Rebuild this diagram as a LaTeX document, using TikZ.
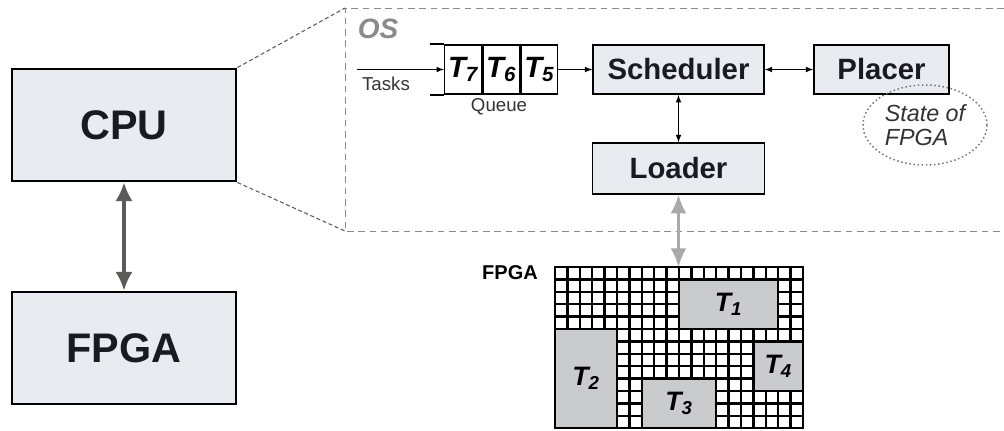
\documentclass[tikz,border=0pt]{standalone}
\usepackage{fontspec}
\setmainfont{Liberation Sans}
\usetikzlibrary{arrows.meta,positioning,shapes.geometric}
\tikzset{>=latex}

\definecolor{boxfill}{HTML}{E8EBEF}
\definecolor{taskfill}{HTML}{C9CBCC}
\definecolor{darkarr}{HTML}{5B5B57}
\definecolor{lightarr}{HTML}{A9A9A9}
\definecolor{osgray}{HTML}{8A8A8A}
\definecolor{inkblack}{HTML}{1A1A22}

\newcommand{\tsk}[1]{T\textsubscript{#1}}

\tikzset{
  bigbox/.style={draw, line width=2.2pt, fill=boxfill, minimum width=168pt,
    minimum height=84pt, inner sep=0pt, text=inkblack,
    font=\fontsize{31}{31}\selectfont\bfseries},
  osbox/.style={draw, line width=1.3pt, fill=boxfill, minimum height=37pt,
    inner sep=0pt, text=inkblack, font=\fontsize{22}{22}\selectfont\bfseries},
  qcell/.style={draw, line width=1.1pt, minimum width=27.5pt, minimum height=37pt,
    inner sep=0pt, font=\fontsize{22}{22}\selectfont\bfseries\itshape},
  smalltxt/.style={inner sep=0pt, text=black!80, font=\fontsize{14}{14}\selectfont},
  link/.style={->, line width=0.9pt},
  linkboth/.style={<->, line width=0.9pt},
  osdash/.style={draw=osgray, dashed, dash pattern=on 5pt off 3.5pt, line width=0.7pt},
  zoomdash/.style={draw=darkarr, densely dashed, line width=0.8pt},
  gridline/.style={line width=1.7pt},
  taskbox/.style={fill=taskfill, draw, line width=1.7pt},
  tasklbl/.style={inner sep=0pt, font=\fontsize{20}{20}\selectfont\bfseries\itshape},
}

\begin{document}
\begin{tikzpicture}[x=0.75pt,y=-0.75pt]
  \useasboundingbox (0,0) rectangle (1004,430);

  %% left: host system
  \node[bigbox] (cpu) at (124,125) {CPU};
  \node[bigbox] (fpga) at (124,348) {FPGA};
  \draw[{Latex[length=14pt,width=13pt]}-{Latex[length=14pt,width=13pt]},
    line width=2.3pt, darkarr] (cpu.south) -- (fpga.north);

  %% zoom into the OS
  \draw[osdash] (1004,8) -- (345,8) -- (345,231) -- (1004,231);
  \draw[zoomdash] (cpu.north east) -- (345,8);
  \draw[zoomdash] (cpu.south east) -- (345,231);
  \node[text=osgray, inner sep=0pt, font=\fontsize{21}{21}\selectfont\bfseries\itshape]
    (os) at (378,29) {OS};

  %% queue
  \node[qcell] (t7) at (463,69.5) {\tsk{7}};
  \node[qcell, right=0pt of t7] (t6) {\tsk{6}};
  \node[qcell, right=0pt of t6] (t5) {\tsk{5}};
  \draw[line width=1.1pt] (t7.north west) -- ++(-14,0);
  \draw[line width=1.1pt] (t7.south west) -- ++(-14,0);
  \coordinate (tin) at (357,69.5);
  \draw[link] (tin) -- (t7.west);
  \node[smalltxt] (tasks) at (386,84) {Tasks};
  \node[smalltxt] (queue) at (499,107) {Queue};

  %% OS units
  \node[osbox, minimum width=128pt] (sched) at (678.5,69.5) {Scheduler};
  \node[osbox, minimum width=101pt] (placer) at (881.5,69.5) {Placer};
  \node[osbox, minimum width=129pt, minimum height=38pt] (loader) at (678.5,168.5) {Loader};
  \draw[link] (t5.east) -- (sched.west);
  \draw[linkboth] (sched.east) -- (placer.west);
  \draw[linkboth] (sched.south) -- (loader.north);

  \node[ellipse, draw=black!55, dotted, line width=1.1pt, minimum width=93pt,
    minimum height=60pt, inner sep=0pt, align=left, text=black!80,
    font=\fontsize{17.5}{18}\selectfont\itshape] (state) at (925,125) {State of\\FPGA};

  %% FPGA fabric
  \coordinate (gtop) at (678.5,267);
  \draw[{Latex[length=14pt,width=12pt]}-{Latex[length=14pt,width=12pt]},
    line width=2.2pt, lightarr] (loader.south) -- (gtop);
  \node[inner sep=0pt, font=\fontsize{15}{15}\selectfont\bfseries] (fpgalbl) at (510,273) {FPGA};

  \begin{scope}[shift={(555,267)}, x=9.3pt, y=-9.3pt]
    \foreach \i in {0,...,20} \draw[gridline] (\i,0) -- (\i,13);
    \foreach \j in {0,...,13} \draw[gridline] (0,\j) -- (20,\j);
    \draw[taskbox] (10,1) rectangle (18,5);
    \draw[taskbox] (0,5) rectangle (5,13);
    \draw[taskbox] (7,9) rectangle (13,13);
    \draw[taskbox] (16,6) rectangle (20,10);
    \node[tasklbl] (k1) at (14,3) {\tsk{1}};
    \node[tasklbl] (k2) at (2.5,9) {\tsk{2}};
    \node[tasklbl] (k3) at (10,11) {\tsk{3}};
    \node[tasklbl] (k4) at (18,8) {\tsk{4}};
    \draw[line width=1.9pt] (0,0) rectangle (20,13);
  \end{scope}
\end{tikzpicture}
\end{document}
